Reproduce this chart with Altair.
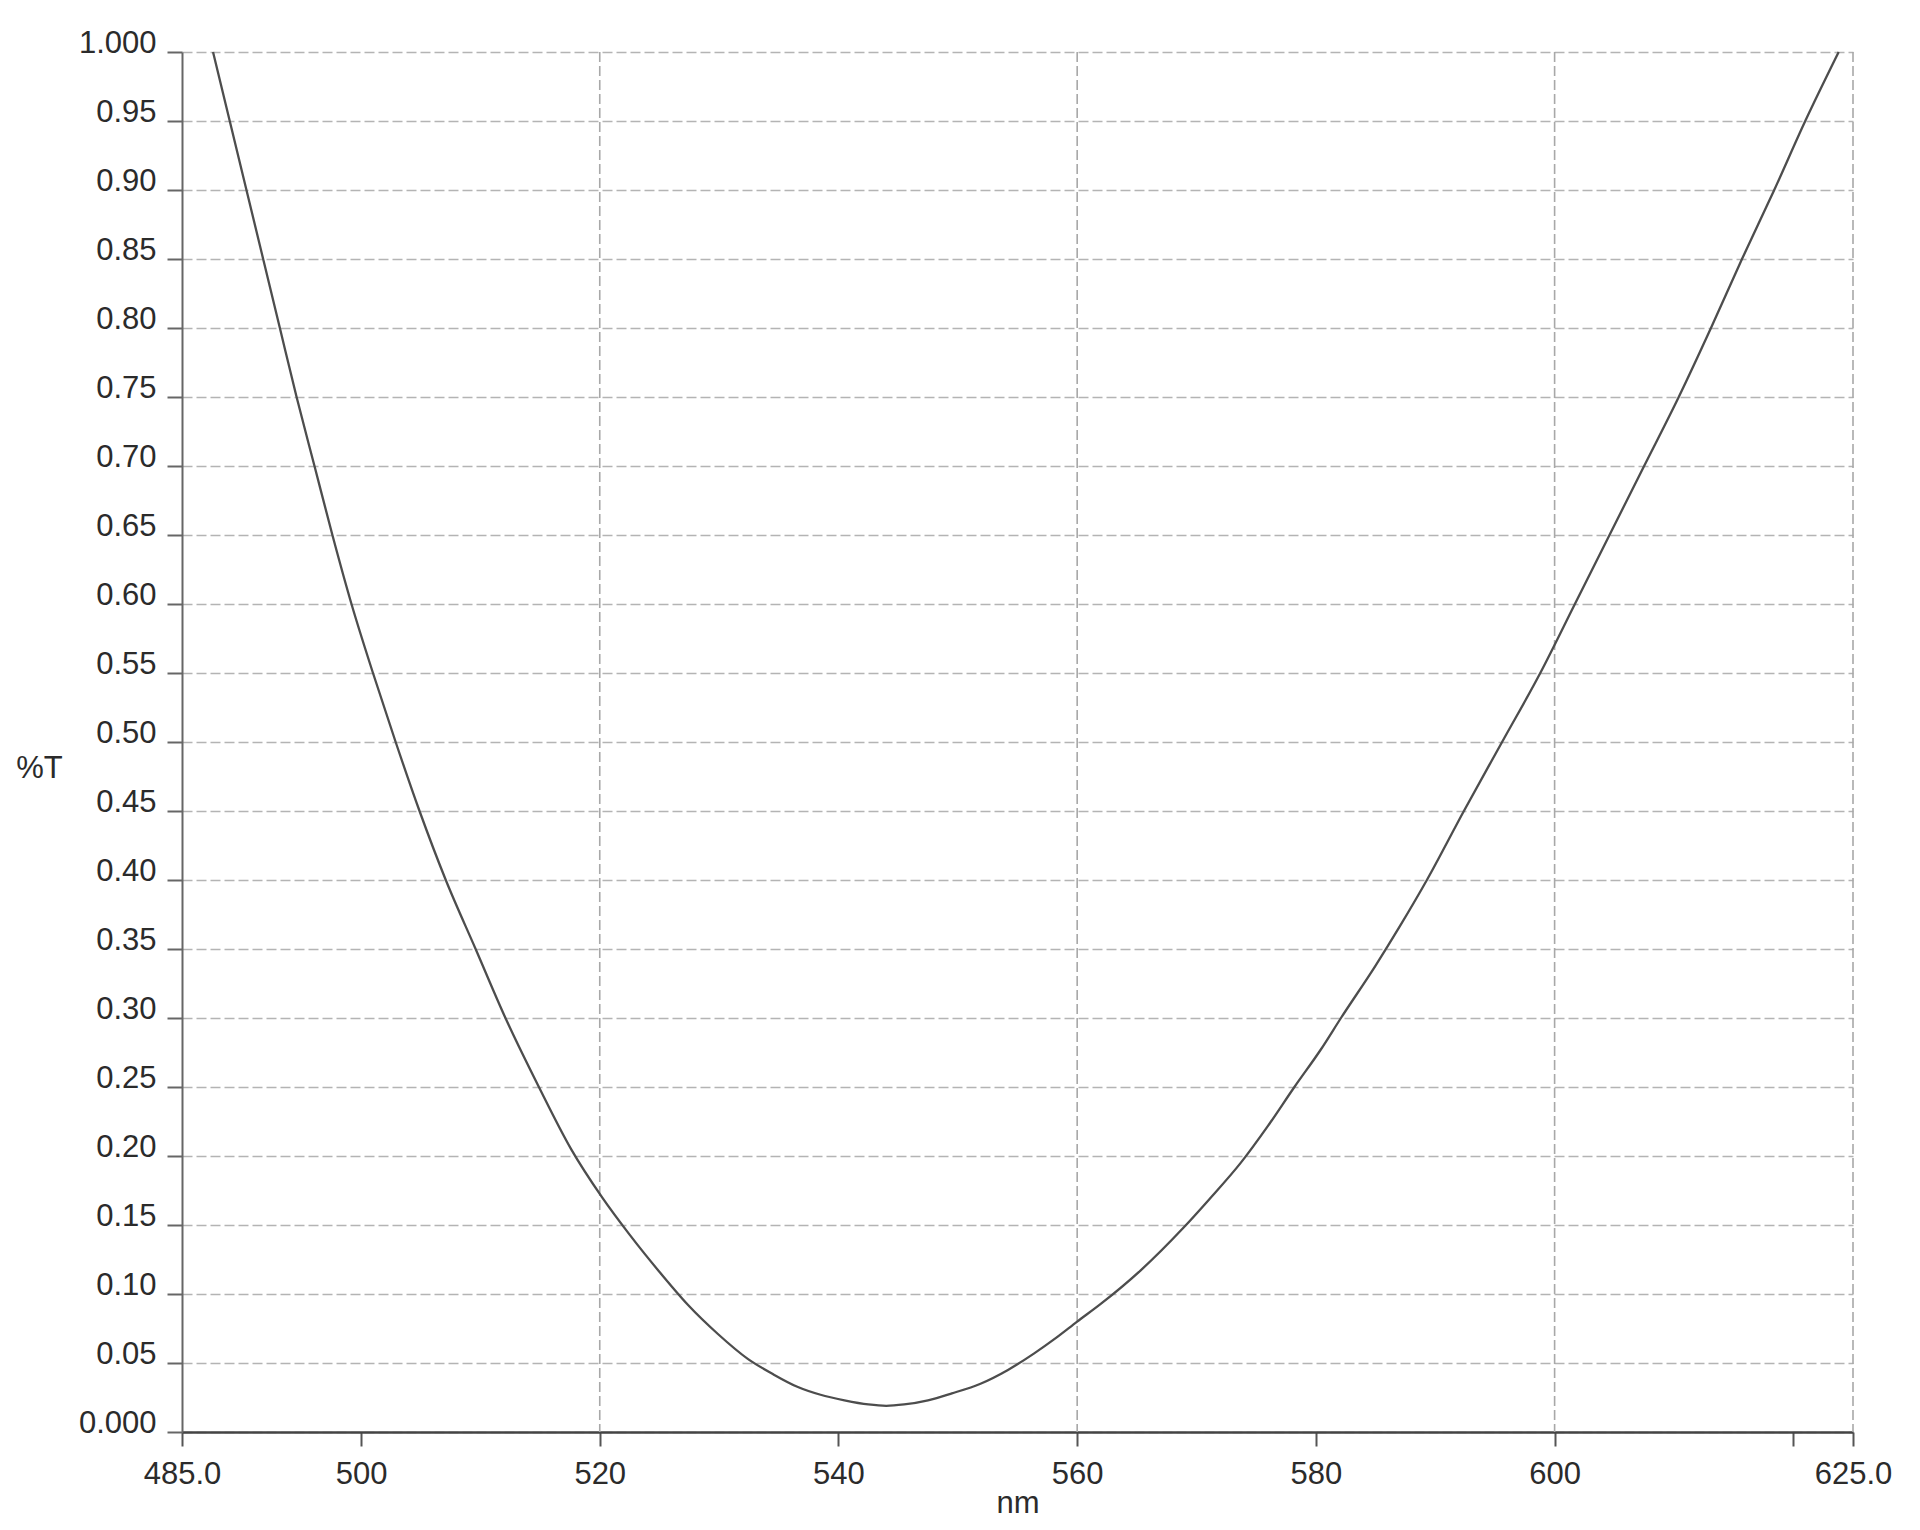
import json
import altair as alt
import pandas as pd

# Transmittance curve
wavelength_nm = [
    487.6, 489.0, 490.4, 491.8, 493.2, 494.6, 496.1, 497.6, 499.2, 501.0,
    502.9, 504.9, 507.1, 509.6, 512.1, 514.9, 517.6, 520.2, 522.5, 525.1,
    527.4, 529.9, 532.4, 534.5, 536.5, 538.5, 540.5, 542.5, 544.0, 545.5,
    547.5, 549.5, 551.9, 554.2, 556.4, 558.2, 560.0, 562.0, 565.3, 568.9,
    571.0, 573.7, 576.0, 578.2, 580.4, 582.1, 585.0, 587.0, 589.3, 592.4,
    595.6, 598.8, 601.7, 604.6, 607.5, 610.4, 613.1, 615.7, 618.4, 621.0,
    623.8,
]
transmittance = [
    1.000, 0.950, 0.900, 0.850, 0.800, 0.750, 0.700, 0.650, 0.600, 0.550,
    0.500, 0.450, 0.400, 0.350, 0.300, 0.250, 0.205, 0.170, 0.143, 0.115,
    0.092, 0.071, 0.053, 0.042, 0.033, 0.027, 0.023, 0.020, 0.019, 0.020,
    0.023, 0.028, 0.035, 0.045, 0.057, 0.068, 0.080, 0.093, 0.117, 0.148,
    0.168, 0.195, 0.222, 0.250, 0.277, 0.300, 0.338, 0.366, 0.400, 0.450,
    0.500, 0.550, 0.600, 0.650, 0.700, 0.750, 0.800, 0.850, 0.900, 0.950,
    1.000,
]

x_tick_values = [485, 500, 520, 540, 560, 580, 600, 620, 625]
x_tick_labels = ["485.0", "500", "520", "540", "560", "580", "600", "", "625.0"]
x_grid_values = [520, 560, 600, 625]

y_tick_values = [0, 0.05, 0.1, 0.15, 0.2, 0.25, 0.3, 0.35, 0.4, 0.45, 0.5,
                 0.55, 0.6, 0.65, 0.7, 0.75, 0.8, 0.85, 0.9, 0.95, 1]
y_tick_labels = ["0.000", "0.05", "0.10", "0.15", "0.20", "0.25", "0.30",
                 "0.35", "0.40", "0.45", "0.50", "0.55", "0.60", "0.65",
                 "0.70", "0.75", "0.80", "0.85", "0.90", "0.95", "1.000"]

x_title = "nm"
y_title = "%T"


def label_expr(vals, labels):
    v = json.dumps(vals)
    l = json.dumps(labels)
    return f"indexof({v}, datum.value) >= 0 ? {l}[indexof({v}, datum.value)] : ''"


curve_df = pd.DataFrame({"nm": wavelength_nm, "T": transmittance})
grid_df = pd.DataFrame({"nm": x_grid_values})

FONT = "Liberation Sans"
W, H = 1671, 1380

x_scale = alt.Scale(domain=[485, 625], nice=False, zero=False)
y_scale = alt.Scale(domain=[0, 1], nice=False, zero=True)

x_axis = alt.Axis(
    values=x_tick_values,
    labelExpr=label_expr(x_tick_values, x_tick_labels),
    grid=False,
    tickSize=14,
    tickWidth=2,
    tickColor="#555555",
    domainColor="#444444",
    domainWidth=2.5,
    labelFont=FONT,
    labelFontSize=31,
    labelColor="#2b2b2b",
    labelPadding=13,
    labelFlush=False,
    labelOverlap=False,
    title=x_title,
    titleFont=FONT,
    titleFontSize=31,
    titleFontWeight="normal",
    titleColor="#2b2b2b",
    titleX=W / 2,
    titleY=56,
    titleAlign="center",
    titleBaseline="top",
)

y_axis = alt.Axis(
    values=y_tick_values,
    labelExpr=label_expr(y_tick_values, y_tick_labels),
    grid=True,
    gridColor="#b4b4b4",
    gridWidth=1.5,
    gridDash=[10, 4],
    tickSize=15,
    tickWidth=2,
    tickColor="#666666",
    domainColor="#666666",
    domainWidth=2,
    labelFont=FONT,
    labelFontSize=31,
    labelColor="#2b2b2b",
    labelPadding=11,
    labelOffset=-9,
    labelFlush=False,
    labelOverlap=False,
    title=y_title,
    titleFont=FONT,
    titleFontSize=31,
    titleFontWeight="normal",
    titleColor="#2b2b2b",
    titleAngle=0,
    titleX=-143,
    titleY=725,
    titleAlign="center",
    titleBaseline="alphabetic",
)

vgrid = alt.Chart(grid_df).mark_rule(
    color="#a8a8a8", strokeWidth=1.6, strokeDash=[10, 4]
).encode(
    x=alt.X("nm:Q", scale=x_scale, axis=x_axis)
)

curve = alt.Chart(curve_df).mark_line(
    color="#4d4d4d", strokeWidth=2.3, interpolate="monotone"
).encode(
    x=alt.X("nm:Q", scale=x_scale, axis=x_axis),
    y=alt.Y("T:Q", scale=y_scale, axis=y_axis),
)

chart = alt.layer(vgrid, curve).properties(
    width=W,
    height=H,
    autosize=alt.AutoSizeParams(type="none"),
    padding={"left": 174, "top": 44, "right": 50, "bottom": 92},
    background="white",
).configure_view(stroke=None)

chart.save("out.html", embed_options={"renderer": "svg", "actions": False})
